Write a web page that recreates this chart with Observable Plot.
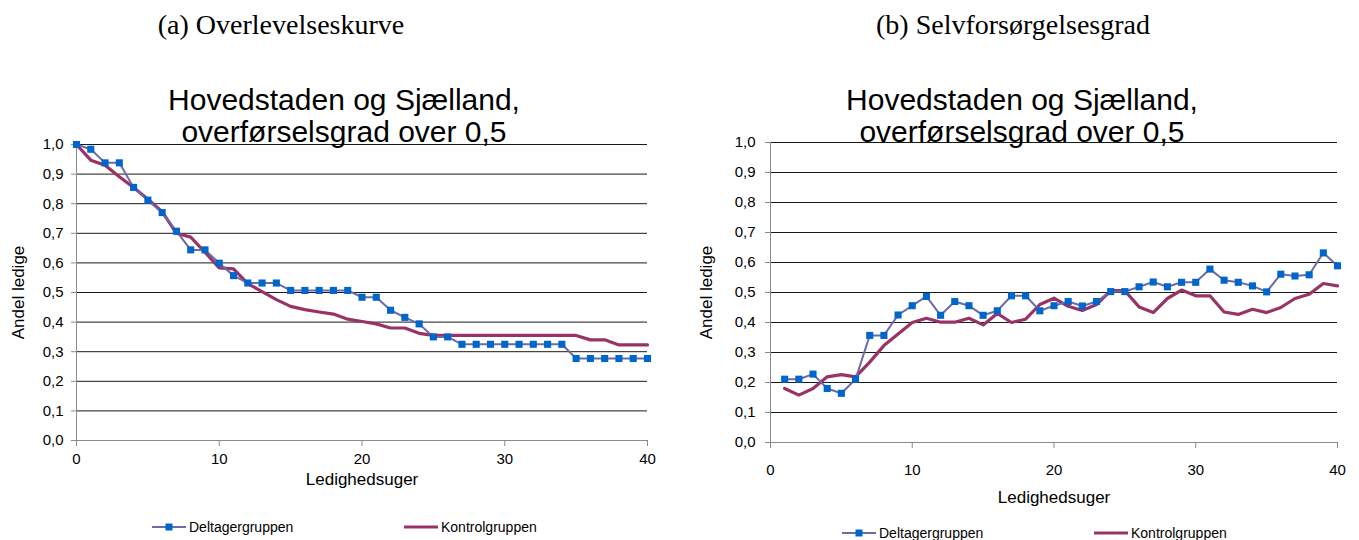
<!DOCTYPE html>
<html>
<head>
<meta charset="utf-8">
<script src="https://cdn.jsdelivr.net/npm/d3@7"></script>
<script src="https://cdn.jsdelivr.net/npm/@observablehq/plot@0.6"></script>
<style>
  html, body { margin: 0; padding: 0; background: #fff; overflow: hidden; }
  #root { position: relative; width: 1359px; height: 540px; font-family: "Liberation Sans", Arial, sans-serif; }
  .panel { position: absolute; top: 0; }
  .sub { position: absolute; text-align: center; font-family: "Liberation Serif", "Times New Roman", serif; font-size: 28px; line-height: 32px; color: #000; white-space: nowrap; }
  .ttl { position: absolute; text-align: center; font-size: 30px; line-height: 32px; color: #000; white-space: nowrap; }
  .leg { position: absolute; font-size: 14px; color: #000; white-space: nowrap; display: flex; align-items: center; }
  .leg svg { display: block; margin-right: 3px; }
</style>
</head>
<body>
<div id="root"></div>
<script>
// ---------- data ----------
const subtitles = ["(a) Overlevelseskurve", "(b) Selvforsørgelsesgrad"];
const chartTitle = ["Hovedstaden og Sjælland,", "overførselsgrad over 0,5"];
const seriesNames = ["Deltagergruppen", "Kontrolgruppen"];
const yLabel = "Andel ledige";
const xLabel = "Ledighedsuger";
const yTicks = [0, 0.1, 0.2, 0.3, 0.4, 0.5, 0.6, 0.7, 0.8, 0.9, 1.0];
const xTicks = [0, 10, 20, 30, 40];

// (a) survival curve, weeks 0..40
const weeksA = [0,1,2,3,4,5,6,7,8,9,10,11,12,13,14,15,16,17,18,19,20,21,22,23,24,25,26,27,28,29,30,31,32,33,34,35,36,37,38,39,40];
const survDeltager = [1.000,0.984,0.938,0.938,0.855,0.812,0.770,0.707,0.644,0.644,0.599,0.557,0.532,0.532,0.532,0.507,0.507,0.507,0.507,0.507,0.484,0.484,0.440,0.416,0.394,0.350,0.350,0.325,0.325,0.325,0.325,0.325,0.325,0.325,0.325,0.277,0.277,0.277,0.277,0.277,0.277];
const survKontrol  = [1.000,0.947,0.930,0.891,0.855,0.815,0.773,0.700,0.687,0.636,0.583,0.580,0.530,0.503,0.476,0.453,0.442,0.434,0.427,0.410,0.402,0.394,0.380,0.380,0.362,0.355,0.355,0.355,0.355,0.355,0.355,0.355,0.355,0.355,0.355,0.355,0.340,0.340,0.323,0.323,0.323];

// (b) self-sufficiency, weeks 1..40
const weeksB = [1,2,3,4,5,6,7,8,9,10,11,12,13,14,15,16,17,18,19,20,21,22,23,24,25,26,27,28,29,30,31,32,33,34,35,36,37,38,39,40];
const selfDeltager = [0.211,0.211,0.228,0.180,0.164,0.211,0.357,0.357,0.425,0.456,0.487,0.424,0.470,0.456,0.424,0.439,0.489,0.489,0.439,0.456,0.470,0.455,0.470,0.503,0.503,0.519,0.535,0.519,0.534,0.534,0.578,0.541,0.534,0.522,0.502,0.561,0.555,0.559,0.632,0.589];
const selfKontrol  = [0.180,0.158,0.180,0.219,0.226,0.219,0.268,0.323,0.362,0.400,0.414,0.401,0.401,0.414,0.392,0.430,0.400,0.411,0.460,0.481,0.454,0.440,0.460,0.506,0.506,0.452,0.433,0.480,0.508,0.489,0.489,0.435,0.427,0.444,0.433,0.450,0.480,0.494,0.530,0.522];

// ---------- styling ----------
const C_DEL_LINE = "#6b6ba8";
const C_DEL_MARK = "#0066cc";
const C_KON = "#993366";
const C_GRID = "#1a1a1a";
const C_AXIS = "#8a8a8a";
const fmt = d => d3.format(".1f")(d).replace(".", ",");

function makeChart(weeks, del, kon, o) {
  const dDel = weeks.map((w, i) => ({w, v: del[i]}));
  const dKon = weeks.map((w, i) => ({w, v: kon[i]}));
  return Plot.plot({
    width: o.width, height: 540,
    marginLeft: o.ml, marginRight: o.mr, marginTop: o.mt, marginBottom: o.mb,
    style: {fontFamily: "'Liberation Sans', Arial, sans-serif", fontSize: "15px", background: "transparent", overflow: "visible"},
    x: {domain: [0, 40]},
    y: {domain: [0, 1]},
    marks: [
      Plot.ruleY(yTicks.filter(d => d > 0), {stroke: C_GRID, strokeWidth: 1}),
      Plot.ruleY([0], {stroke: C_AXIS, strokeWidth: 1}),
      Plot.ruleX([0], {stroke: C_AXIS, strokeWidth: 1}),
      Plot.axisY({ticks: yTicks, tickFormat: fmt, tickSize: 5, tickPadding: o.ypad, stroke: C_AXIS, label: null, fontSize: 15}),
      Plot.axisX({ticks: xTicks, tickSize: 6, tickPadding: o.xpad, stroke: C_AXIS, label: null, fontSize: 15}),
      Plot.text([yLabel], {text: d => d, frameAnchor: "left", textAnchor: "middle", dx: o.ylx, rotate: -90, fontSize: 17}),
      Plot.text([xLabel], {text: d => d, frameAnchor: "bottom", dy: o.xly, fontSize: 17}),
      Plot.line(dKon, {x: "w", y: "v", stroke: C_KON, strokeWidth: 3.2}),
      Plot.line(dDel, {x: "w", y: "v", stroke: C_DEL_LINE, strokeWidth: 2}),
      Plot.dot(dDel, {x: "w", y: "v", symbol: "square", r: 4, fill: C_DEL_MARK, stroke: "none"})
    ]
  });
}

const root = document.getElementById("root");

function addPanel(left, chart) {
  const div = document.createElement("div");
  div.className = "panel";
  div.style.left = left + "px";
  div.appendChild(chart);
  root.appendChild(div);
}

addPanel(0, makeChart(weeksA, survDeltager, survKontrol, {width: 680, ml: 76, mr: 33, mt: 144, mb: 100, xpad: 7, ypad: 8, ylx: -58, xly: 44}));
addPanel(680, makeChart(weeksB, selfDeltager, selfKontrol, {width: 679, ml: 90, mr: 22, mt: 142, mb: 98, xpad: 16, ypad: 10, ylx: -64, xly: 60}));

function addDiv(cls, text, css) {
  const d = document.createElement("div");
  d.className = cls;
  d.innerHTML = text;
  Object.assign(d.style, css);
  root.appendChild(d);
  return d;
}

// subtitles
addDiv("sub", subtitles[0], {left: "81px", width: "400px", top: "9px"});
addDiv("sub", subtitles[1], {left: "813px", width: "400px", top: "9px"});
// chart titles
addDiv("ttl", chartTitle.join("<br>"), {left: "144px", width: "400px", top: "84px"});
addDiv("ttl", chartTitle.join("<br>"), {left: "822px", width: "400px", top: "84px"});

function legend(x, y, markers) {
  const d = document.createElement("div");
  d.className = "leg";
  d.style.left = x + "px";
  d.style.top = (y - 8) + "px";
  const s = d3.create("svg").attr("width", 34).attr("height", 16);
  s.append("line").attr("x1", 0).attr("x2", 34).attr("y1", 8).attr("y2", 8)
    .attr("stroke", markers ? C_DEL_LINE : C_KON).attr("stroke-width", markers ? 2 : 3.2);
  if (markers) s.append("rect").attr("x", 13.5).attr("y", 4.5).attr("width", 7).attr("height", 7).attr("fill", C_DEL_MARK);
  d.appendChild(s.node());
  const t = document.createElement("span");
  t.textContent = markers ? seriesNames[0] : seriesNames[1];
  d.appendChild(t);
  root.appendChild(d);
}
legend(152, 527, true);
legend(404, 527, false);
legend(842, 533, true);
legend(1094, 533, false);
</script>
</body>
</html>
